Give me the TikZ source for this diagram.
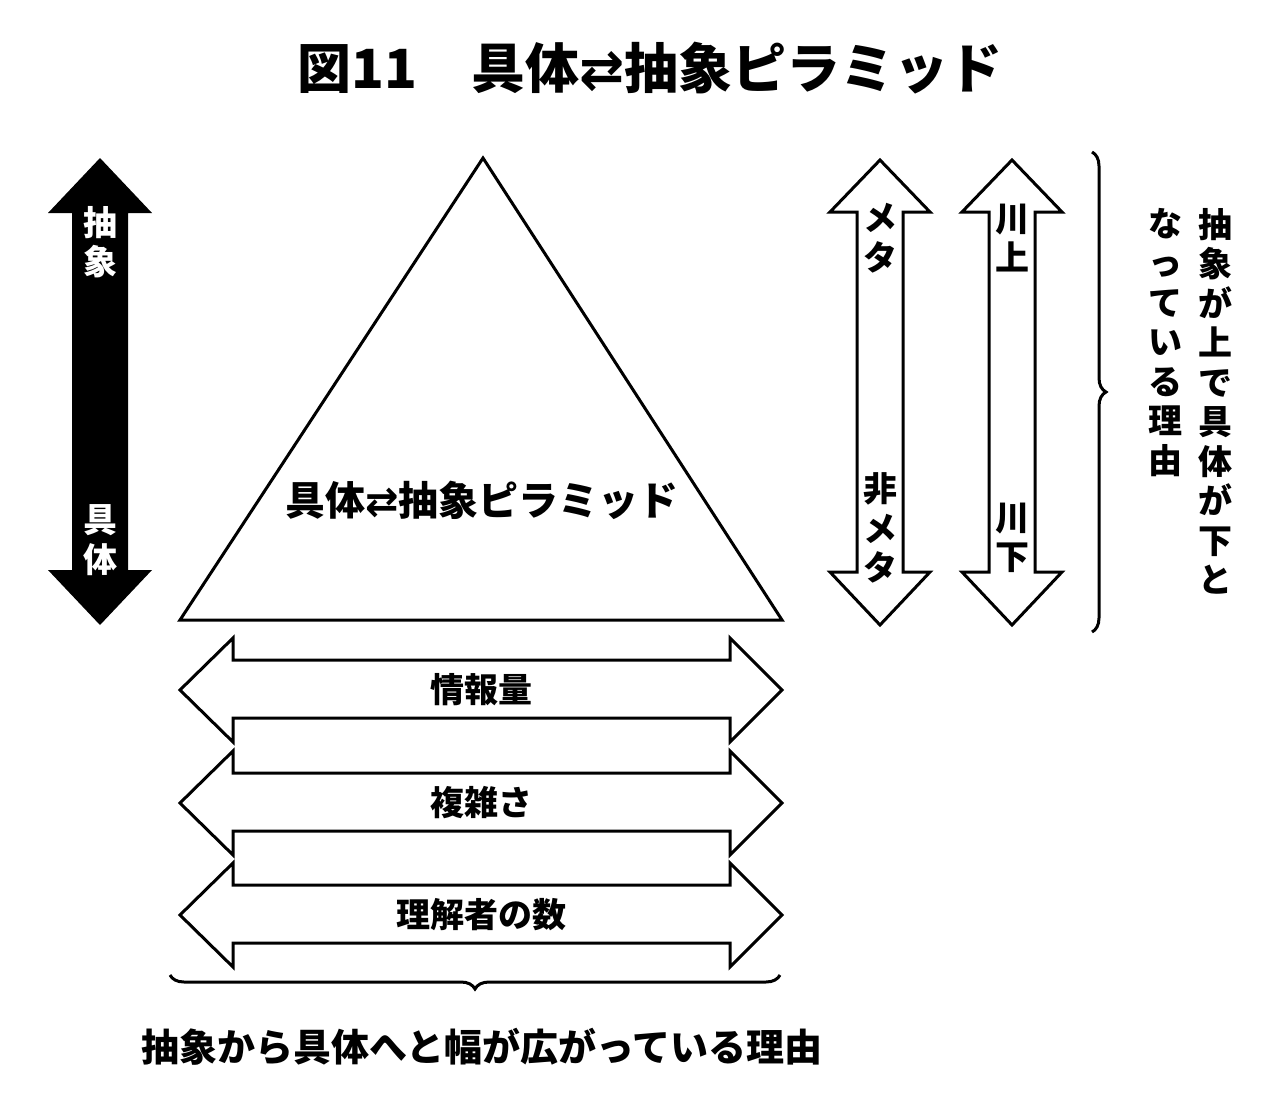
\documentclass[tikz,border=0pt]{standalone}
\usepackage{fontspec}
\setmainfont{Noto Sans CJK JP}
\newfontfamily\symf{DejaVu Sans}
\usetikzlibrary{decorations.pathreplacing}
\tikzset{
  outl/.style={draw=black,line width=3pt,fill=white,line join=miter},
  vt/.style={align=center,font=\fontsize{34}{39.5}\selectfont\bfseries,inner sep=0pt},
  ht/.style={font=\fontsize{34}{38}\selectfont\bfseries,inner sep=0pt},
  br/.style={draw,line width=3pt,decorate,decoration={brace,amplitude=14pt}}
}
\newcommand{\lr}{{\symf\char"21C4}}
\begin{document}
\begin{tikzpicture}[x=1pt,y=-1pt]
\useasboundingbox (0,0) rectangle (1280,1112);
% title
\node[font=\fontsize{54}{58}\selectfont\bfseries,inner sep=0pt] (title) at (650,68) {図11\hspace{1em}具体\lr 抽象ピラミッド};
% triangle
\draw[outl] (483,158) -- (782,620) -- (180,620) -- cycle;
\node[font=\fontsize{40}{44}\selectfont\bfseries,inner sep=0pt] (pyr) at (482,500) {具体\lr 抽象ピラミッド};
% black arrow
\fill[black] (100,158) -- (152,213) -- (128,213) -- (128,570) -- (152,570) -- (100,625) -- (48,570) -- (72,570) -- (72,213) -- (48,213) -- cycle;
\node[vt,text=white] (abs) at (100,242) {抽\\象};
\node[vt,text=white] (con) at (100,540) {具\\体};
% meta arrow
\draw[outl] (880,160) -- (930,212) -- (903,212) -- (903,572) -- (930,572) -- (880,625) -- (830,572) -- (857,572) -- (857,212) -- (830,212) -- cycle;
\node[vt] (meta) at (880,238) {メ\\タ};
\node[vt] (nmeta) at (880,528) {非\\メ\\タ};
% river arrow
\draw[outl] (1012,160) -- (1062,212) -- (1035,212) -- (1035,572) -- (1062,572) -- (1012,625) -- (962,572) -- (989,572) -- (989,212) -- (962,212) -- cycle;
\node[vt] (up) at (1012,238) {川\\上};
\node[vt] (down) at (1012,538) {川\\下};
% right brace
\coordinate (rb1) at (1092,152);
\coordinate (rb2) at (1092,632);
\draw[br] (rb1) -- (rb2);
\node[vt,anchor=north] (r1) at (1215,208) {抽\\象\\が\\上\\で\\具\\体\\が\\下\\と};
\node[vt,anchor=north] (r2) at (1165,208) {な\\っ\\て\\い\\る\\理\\由};
% horizontal arrows
\foreach \y/\t/\n in {690/情報量/h1, 803/複雑さ/h2, 915/理解者の数/h3}{
  \draw[outl] (180,\y) -- (233,\y-52) -- (233,\y-30) -- (730,\y-30) -- (730,\y-52) -- (782,\y) -- (730,\y+52) -- (730,\y+28) -- (233,\y+28) -- (233,\y+52) -- cycle;
  \node[ht] (\n) at (481,\y) {\t};
}
% bottom brace
\coordinate (bb1) at (780,975);
\coordinate (bb2) at (170,975);
\draw[br] (bb1) -- (bb2);
\node[font=\fontsize{38}{42}\selectfont\bfseries,inner sep=0pt] (bottom) at (482,1047) {抽象から具体へと幅が広がっている理由};
\end{tikzpicture}
\end{document}
